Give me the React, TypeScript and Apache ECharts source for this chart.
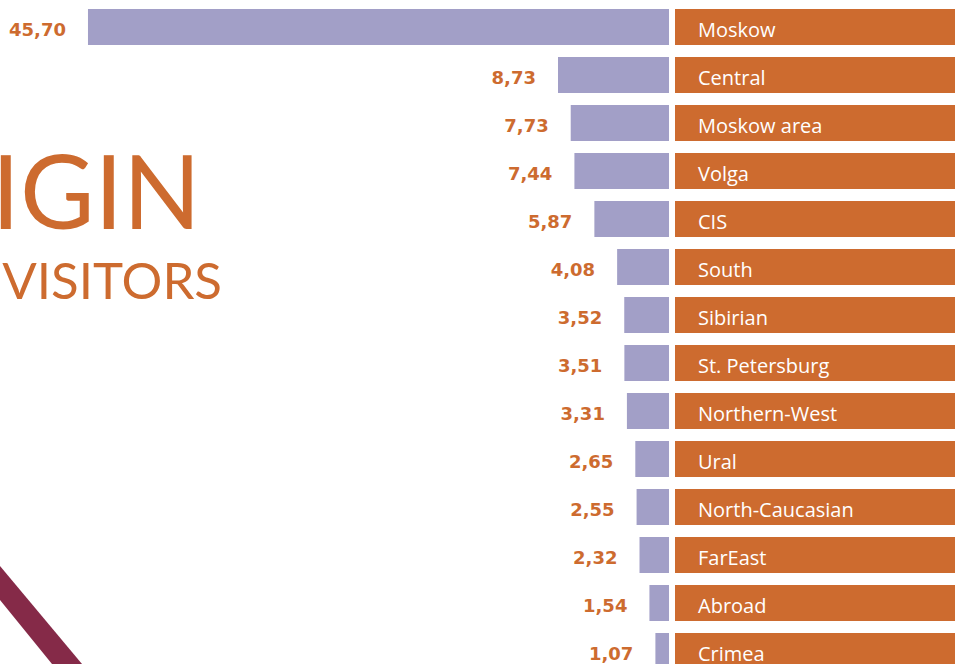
import React, { useEffect, useRef } from "react";
import * as echarts from "echarts";

const categories = [
  "Moskow", "Central", "Moskow area", "Volga", "CIS", "South", "Sibirian",
  "St. Petersburg", "Northern-West", "Ural", "North-Caucasian", "FarEast", "Abroad", "Crimea",
];
const shares = [45.7, 8.73, 7.73, 7.44, 5.87, 4.08, 3.52, 3.51, 3.31, 2.65, 2.55, 2.32, 1.54, 1.07];
const labelFill = categories.map(() => 1);
const titleMain = "IGIN";
const titleSub = "VISITORS";

const ORANGE = "#CD6B2F";
const LAVENDER = "#A29FC7";
const MAROON = "#852A48";

export default function App() {
  const ref = useRef<HTMLDivElement>(null);
  useEffect(() => {
    const chart = echarts.init(ref.current!, null, { renderer: "svg" });
    chart.setOption({
      animation: false,
      backgroundColor: "#ffffff",
      grid: [
        { left: 0, width: 669, top: 3, height: 672 },
        { left: 675, width: 280, top: 3, height: 672 },
      ],
      xAxis: [
        { gridIndex: 0, type: "value", inverse: true, min: 0, max: 52.62, show: false },
        { gridIndex: 1, type: "value", min: 0, max: 1, show: false },
      ],
      yAxis: [
        { gridIndex: 0, type: "category", data: categories, inverse: true, show: false },
        { gridIndex: 1, type: "category", data: categories, inverse: true, show: false },
      ],
      series: [
        {
          type: "bar",
          xAxisIndex: 0,
          yAxisIndex: 0,
          data: shares,
          barWidth: 36,
          itemStyle: { color: LAVENDER },
          label: {
            show: true,
            position: "left",
            distance: 22,
            offset: [0, 2],
            color: ORANGE,
            fontFamily: "DejaVu Sans",
            fontWeight: "bold",
            fontSize: 18,
            formatter: (p: any) => Number(p.value).toFixed(2).replace(".", ","),
          },
        },
        {
          type: "bar",
          xAxisIndex: 1,
          yAxisIndex: 1,
          data: labelFill,
          barWidth: 36,
          itemStyle: { color: ORANGE },
          label: {
            show: true,
            position: "insideLeft",
            distance: 23,
            offset: [0, 2],
            color: "#ffffff",
            fontFamily: "Open Sans",
            fontSize: 20,
            formatter: "{b}",
          },
        },
      ],
      graphic: [
        {
          type: "text",
          x: 201,
          y: 189,
          style: {
            text: titleMain,
            fill: ORANGE,
            font: "400 102px Lato",
            lineHeight: 80,
            align: "right",
            verticalAlign: "middle",
          },
        },
        {
          type: "text",
          x: 222,
          y: 279,
          style: {
            text: titleSub,
            fill: ORANGE,
            font: "400 51px Lato",
            lineHeight: 40,
            align: "right",
            verticalAlign: "middle",
          },
        },
        {
          type: "polygon",
          shape: { points: [[0, 566], [0, 600], [52, 664], [82, 664]] },
          style: { fill: MAROON },
        },
      ],
    });
    return () => chart.dispose();
  }, []);
  return <div ref={ref} style={{ width: 955, height: 700, position: "fixed", left: 0, top: 0 }} />;
}
